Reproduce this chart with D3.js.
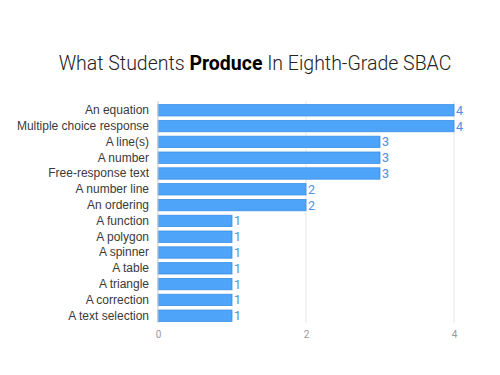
<!DOCTYPE html>
<html>
<head>
<meta charset="utf-8">
<script src="https://cdn.jsdelivr.net/npm/d3@7"></script>
<style>
	body { margin: 0; background: #fff; }
	text { font-family: 'Helvetica Neue', Roboto, 'Liberation Sans', sans-serif; }
</style>
</head>
<body>
<div id="vis"></div>
<script>
// DATA
let categories = [
	'An equation',
	'Multiple choice response',
	'A line(s)',
	'A number',
	'Free-response text',
	'A number line',
	'An ordering',
	'A function',
	'A polygon',
	'A spinner',
	'A table',
	'A triangle',
	'A correction',
	'A text selection'
];
let counts = [4, 4, 3, 3, 3, 2, 2, 1, 1, 1, 1, 1, 1, 1];
let ticks = [0, 2, 4];

// PARAMETERS
let width = 500,
	height = 375,
	margin = { top: 103, bottom: 52, left: 158, right: 46 };

// SCALES
let x = d3
		.scaleLinear()
		.domain([0, 4])
		.range([margin.left, width - margin.right]),
	y = d3
		.scaleBand()
		.domain(categories)
		.range([margin.top, height - margin.bottom])
		.paddingInner(0.28)
		.paddingOuter(0.1);

let svg = d3
	.select('#vis')
	.append('svg')
	.attr('width', width)
	.attr('height', height);

// TITLE
let title = svg
	.append('text')
	.attr('x', 255)
	.attr('y', 70)
	.attr('text-anchor', 'middle')
	.attr('font-size', 19.5)
	.attr('font-weight', 300)
	.attr('fill', '#222');
title.append('tspan').text('What Students ');
title.append('tspan').attr('font-weight', 700).attr('fill', '#000').text('Produce');
title.append('tspan').text(' In Eighth-Grade SBAC');

// GRID
svg
	.selectAll('.grid')
	.data(ticks.slice(1))
	.enter()
	.append('line')
	.attr('class', 'grid')
	.attr('x1', d => x(d))
	.attr('x2', d => x(d))
	.attr('y1', margin.top - 2)
	.attr('y2', height - margin.bottom)
	.attr('stroke', '#e6e6e6')
	.attr('stroke-width', 1);

// AXES
let xAxis = d3
	.axisBottom(x)
	.tickValues(ticks)
	.tickSize(0)
	.tickPadding(8)
	.tickFormat(d3.format('d'));

let gx = svg
	.append('g')
	.attr('transform', `translate(0, ${height - margin.bottom})`)
	.call(xAxis);
gx.select('.domain').remove();
gx.selectAll('text').attr('fill', '#999').attr('font-size', 10).style('font-family', null);

let yAxis = d3.axisLeft(y).tickSize(0).tickPadding(9);
let gy = svg
	.append('g')
	.attr('transform', `translate(${margin.left}, 0)`)
	.call(yAxis);
gy.select('.domain').remove();
gy.selectAll('text')
	.attr('fill', '#3a3a3a')
	.attr('font-size', 12)
	.style('font-family', "'Liberation Sans', Arial, sans-serif");

// BARS
svg
	.selectAll('.bar')
	.data(counts)
	.enter()
	.append('rect')
	.attr('class', 'bar')
	.attr('x', x(0))
	.attr('y', (d, i) => y(categories[i]))
	.attr('width', d => x(d) - x(0))
	.attr('height', y.bandwidth())
	.attr('fill', '#4ea4f8')
	.attr('stroke', '#3b90e6')
	.attr('stroke-width', 0.8);

// ZERO LINE
svg
	.append('line')
	.attr('x1', x(0))
	.attr('x2', x(0))
	.attr('y1', margin.top - 2)
	.attr('y2', height - margin.bottom)
	.attr('stroke', '#c8c8c8');

// VALUE LABELS
svg
	.selectAll('.val')
	.data(counts)
	.enter()
	.append('text')
	.attr('class', 'val')
	.attr('x', d => x(d) + 2)
	.attr('y', (d, i) => y(categories[i]) + y.bandwidth() / 2)
	.attr('dy', '0.36em')
	.attr('font-size', 12.5)
	.attr('fill', '#4f8fd8')
	.text(d => d);
</script>
</body>
</html>
